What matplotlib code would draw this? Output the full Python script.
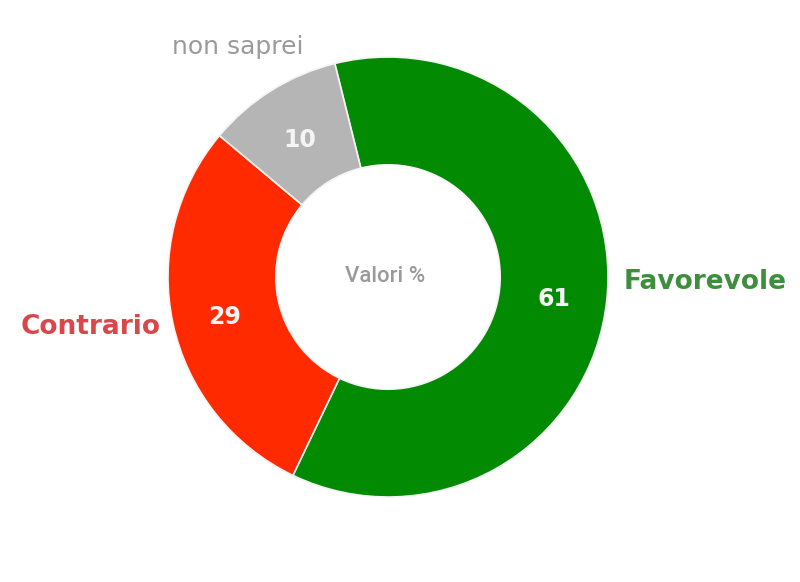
import matplotlib
matplotlib.use("Agg")
import matplotlib.pyplot as plt

categories = ["Favorevole", "Contrario", "non saprei"]
values = [61, 29, 10]
colors = ["#028a02", "#ff2a00", "#b5b5b5"]
label_colors = ["#3d8f3d", "#d9474a", "#9a9a9a"]

fig = plt.figure(figsize=(8, 5.82), dpi=100)
ax = fig.add_axes([0, 0, 1, 1])
cx, cy, R = 388, 305, 220
wedges, texts, autotexts = ax.pie(
    values, colors=colors, startangle=104, counterclock=False,
    center=(cx, cy), radius=R,
    autopct=lambda p: f"{p:.0f}", pctdistance=0.76,
    wedgeprops=dict(width=R * 0.49, edgecolor="#f4f4f4", linewidth=1.2),
    textprops=dict(color="#f4f4f4", fontsize=17, fontweight="bold", family="DejaVu Sans"),
)
for t in autotexts:
    x, y = t.get_position()
    t.set_position((x, y - 5))
ax.set_xlim(0, 800)
ax.set_ylim(0, 582)
ax.set_aspect("equal")
ax.axis("off")

ax.text(705, 300, categories[0], color=label_colors[0], fontsize=19, fontweight="bold",
        family="DejaVu Sans", ha="center", va="center")
ax.text(91, 255, categories[1], color=label_colors[1], fontsize=19, fontweight="bold",
        family="DejaVu Sans", ha="center", va="center")
ax.text(238, 535, categories[2], color=label_colors[2], fontsize=18,
        family="DejaVu Sans", ha="center", va="center")
ax.text(385, 305, "Valori %", color="#9a9a9a", fontsize=16, family="Roboto",
        fontweight="medium", ha="center", va="center")

fig.savefig("out.png", dpi=100, facecolor="white")
